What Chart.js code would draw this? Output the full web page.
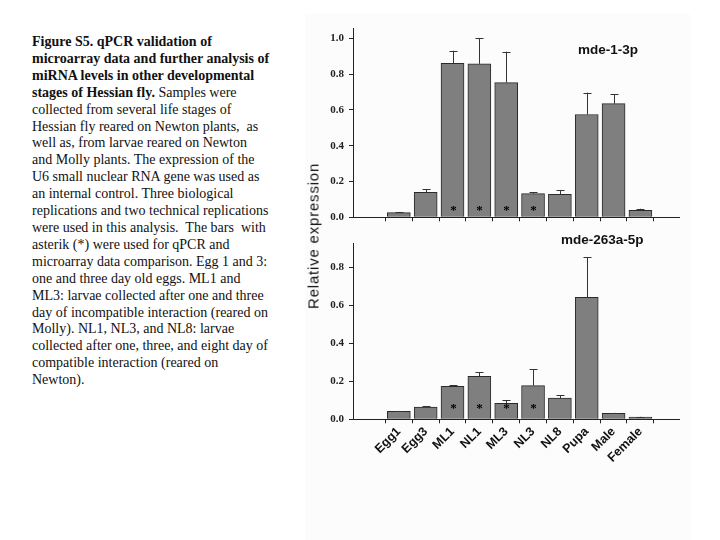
<!DOCTYPE html>
<html>
<head>
<meta charset="utf-8">
<script src="https://cdn.jsdelivr.net/npm/chart.js@4/dist/chart.umd.min.js"></script>
<style>
  body { margin: 0; width: 720px; height: 540px; background: #fff; position: relative; overflow: hidden; }
  #panel { position: absolute; left: 305px; top: 14px; width: 385px; height: 526px; background: #fdfcfd; }
  #caption { position: absolute; left: 32px; top: 34px; width: 270px; font-family: "Liberation Serif", "Times New Roman", serif; font-size: 14px; line-height: 16.9px; color: #111; white-space: nowrap; }
  canvas { position: absolute; }
  .titre { position: absolute; font-family: "Liberation Sans", Arial, sans-serif; font-weight: bold; font-size: 13.5px; color: #111; }
  #ylabel { position: absolute; left: 313px; top: 236px; transform: translate(-50%, -50%) rotate(-90deg); font-family: "Liberation Sans", Arial, sans-serif; font-size: 15px; letter-spacing: 0.8px; color: #111; white-space: nowrap; }
</style>
</head>
<body>
<div id="panel"></div>
<div id="caption">
<b>Figure S5. qPCR validation of</b><br>
<b>microarray data and further analysis of</b><br>
<b>miRNA levels in other developmental</b><br>
<b>stages of Hessian fly.</b> Samples were<br>
collected from several life stages of<br>
Hessian fly reared on Newton plants,&nbsp; as<br>
well as, from larvae reared on Newton<br>
and Molly plants. The expression of the<br>
U6 small nuclear RNA gene was used as<br>
an internal control. Three biological<br>
replications and two technical replications<br>
were used in this analysis.&nbsp; The bars&nbsp; with<br>
asterik (*) were used for qPCR and<br>
microarray data comparison. Egg 1 and 3:<br>
one and three day old eggs. ML1 and<br>
ML3: larvae collected after one and three<br>
day of incompatible interaction (reared on<br>
Molly). NL1, NL3, and NL8: larvae<br>
collected after one, three, and eight day of<br>
compatible interaction (reared on<br>
Newton).
</div>
<canvas id="grafHaut" width="390" height="215" style="left:300px;top:15px"></canvas>
<canvas id="grafBas" width="390" height="250" style="left:300px;top:230px"></canvas>
<div class="titre" style="left:578px;top:42px">mde-1-3p</div>
<div class="titre" style="left:561px;top:232px">mde-263a-5p</div>
<div id="ylabel">Relative expression</div>

<script>
// valeurs
var stades = ['Egg1', 'Egg3', 'ML1', 'NL1', 'ML3', 'NL3', 'NL8', 'Pupa', 'Male', 'Female'];
var mde1Moyenne = [0.026, 0.14, 0.86, 0.857, 0.752, 0.132, 0.128, 0.574, 0.635, 0.039];
var mde1Erreur = [0.004, 0.016, 0.07, 0.143, 0.173, 0.008, 0.023, 0.122, 0.052, 0.009];
var mde263Moyenne = [0.042, 0.065, 0.174, 0.227, 0.084, 0.178, 0.112, 0.643, 0.032, 0.012];
var mde263Erreur = [0.002, 0.004, 0.007, 0.021, 0.018, 0.086, 0.016, 0.211, 0.002, 0.001];
var avecAsterisque = [false, false, true, true, true, true, false, false, false, false];

// barres d'erreur + asterisques
var pluginErreurs = {
    id: 'erreurs',
    afterDatasetsDraw: function (chart, args, opts) {
        var ctx = chart.ctx;
        var xs = chart.scales.x;
        var ys = chart.scales.y;
        ctx.save();
        ctx.strokeStyle = '#333';
        ctx.lineWidth = 1;
        for (var i = 0; i < opts.moyenne.length; i++) {
            var x = Math.round(xs.getPixelForValue(i)) + 0.5;
            var y0 = ys.getPixelForValue(opts.moyenne[i]);
            var y1 = ys.getPixelForValue(opts.moyenne[i] + opts.erreur[i]);
            ctx.beginPath();
            ctx.moveTo(x, y0);
            ctx.lineTo(x, y1);
            ctx.moveTo(x - 4, Math.round(y1) + 0.5);
            ctx.lineTo(x + 4, Math.round(y1) + 0.5);
            ctx.stroke();
            if (avecAsterisque[i]) {
                ctx.fillStyle = '#000';
                ctx.font = 'bold 13px "Liberation Serif"';
                ctx.textAlign = 'center';
                ctx.textBaseline = 'middle';
                ctx.fillText('*', x, ys.getPixelForValue(opts.etoile) + 2);
            }
        }
        ctx.restore();
    }
};

function creerGraphique(idCanvas, moyenne, erreur, maxY, etoile, avecLabels, padding, hauteurX) {
    var points = [];
    for (i = 0; i < moyenne.length; i++) {
        points.push({ x: i, y: moyenne[i] });
    }

    const config = {
        type: 'bar',
        data: {
            datasets: [{
                data: points,
                backgroundColor: '#7f7f7f',
                borderColor: '#2a2a2a',
                borderWidth: 1,
                barThickness: 23
            }]
        },
        options: {
            responsive: false,
            animation: false,
            layout: { padding: padding },
            plugins: {
                legend: { display: false },
                tooltip: { enabled: false },
                erreurs: { moyenne: moyenne, erreur: erreur, etoile: etoile }
            },
            scales: {
                x: {
                    type: 'linear',
                    min: -1.1,
                    max: 9.83,
                    afterBuildTicks: function (axis) {
                        axis.ticks = axis.ticks.filter(t => t.value >= 0 && t.value <= 9 && Number.isInteger(t.value));
                    },
                    afterFit: function (axis) { axis.height = hauteurX; },
                    ticks: {
                        display: avecLabels,
                        stepSize: 1,
                        autoSkip: false,
                        minRotation: 45,
                        maxRotation: 45,
                        padding: 1,
                        color: '#111',
                        font: { family: 'Liberation Sans', weight: 'bold', size: 12.5 },
                        callback: function (v) { return stades[v]; }
                    },
                    grid: { drawOnChartArea: false, drawTicks: true, tickLength: 4, color: '#222' },
                    border: { color: '#222' }
                },
                y: {
                    min: 0,
                    max: maxY,
                    afterBuildTicks: function (axis) {
                        axis.ticks = axis.ticks.filter(t => Math.abs(t.value * 5 - Math.round(t.value * 5)) < 1e-6);
                    },
                    afterFit: function (axis) { axis.width = 53; },
                    ticks: {
                        stepSize: 0.2,
                        includeBounds: false,
                        padding: 5,
                        color: '#222',
                        font: { family: 'Liberation Serif', weight: 'bold', size: 11 },
                        callback: function (v) { return v.toFixed(1); }
                    },
                    grid: { drawOnChartArea: false, drawTicks: true, tickLength: 4, color: '#222' },
                    border: { color: '#222' }
                }
            }
        },
        plugins: [pluginErreurs]
    };

    return new Chart(document.getElementById(idCanvas), config);
}

creerGraphique('grafHaut', mde1Moyenne, mde1Erreur, 1.057, 0.05, false,
    { left: 0, right: 11, top: 13, bottom: 0 }, 12.7);
creerGraphique('grafBas', mde263Moyenne, mde263Erreur, 0.93, 0.067, true,
    { left: 0, right: 11, top: 13, bottom: 0 }, 60.7);
</script>
</body>
</html>
